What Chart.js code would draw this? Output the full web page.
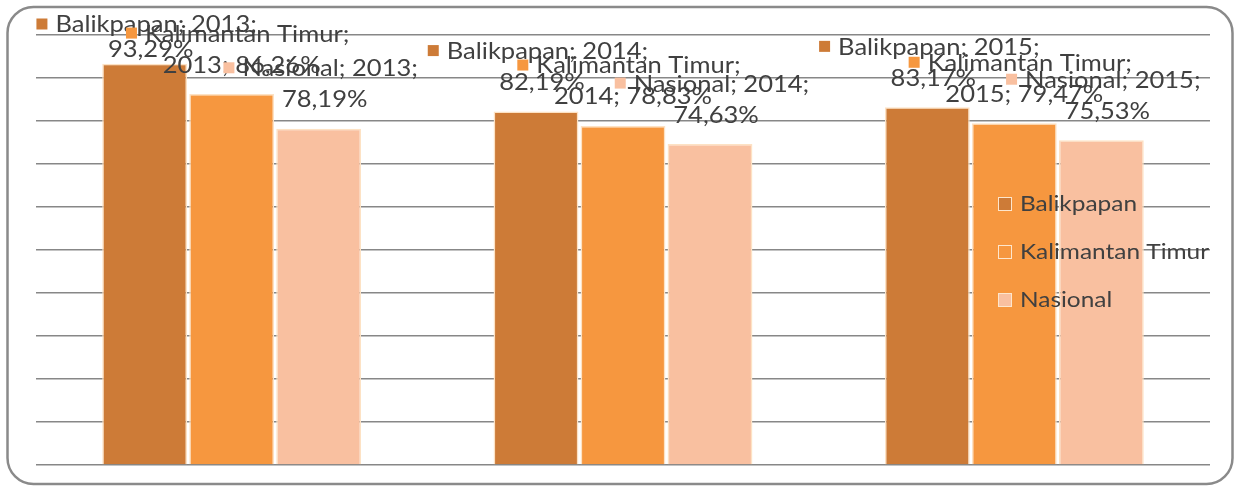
<!DOCTYPE html>
<html>
<head>
<meta charset="utf-8">
<script src="https://cdn.jsdelivr.net/npm/chart.js@4/dist/chart.umd.min.js"></script>
<style>
  html, body { margin: 0; padding: 0; background: #ffffff; }
  #wrap { position: relative; width: 1235px; height: 488px; }
</style>
</head>
<body>
<div id="wrap"><canvas id="c" width="1235" height="488"></canvas></div>
<script>
// Categories (years) and series values in percent
const years = ['2013', '2014', '2015'];
const seriesNames = ['Balikpapan', 'Kalimantan Timur', 'Nasional'];
const balikpapan = [93.29, 82.19, 83.17];
const kalimantanTimur = [86.26, 78.83, 79.47];
const nasional = [78.19, 74.63, 75.53];
const seriesColors = ['#cd7b37', '#f6973f', '#f9c0a0'];

const FONT = 'Lato, "Open Sans", sans-serif';
const TEXT = '#404040';
const STRETCH = 1.11; // slightly widened lettering

function fmt(v) { return v.toFixed(2).replace('.', ',') + '%'; }

// Draw text widened horizontally; align is 'left' or 'center'
function wideText(ctx, str, x, y, align) {
  const w = ctx.measureText(str).width * STRETCH;
  const left = align === 'center' ? x - w / 2 : x;
  ctx.save();
  ctx.translate(left, y);
  ctx.scale(STRETCH, 1);
  ctx.textAlign = 'left';
  ctx.fillText(str, 0, 0);
  ctx.restore();
}

// Rounded frame around the whole chart
const framePlugin = {
  id: 'frame',
  beforeDraw(chart) {
    const ctx = chart.ctx;
    ctx.save();
    ctx.fillStyle = '#ffffff';
    ctx.fillRect(0, 0, chart.width, chart.height);
    ctx.strokeStyle = '#8a8a8a';
    ctx.lineWidth = 2.5;
    ctx.beginPath();
    ctx.roundRect(7.5, 7, chart.width - 10, chart.height - 11, 26);
    ctx.stroke();
    ctx.restore();
  }
};

// Value labels: marker + "Series; Year;" on one line, value on the next
const labelPlugin = {
  id: 'barLabels',
  afterDatasetsDraw(chart) {
    const ctx = chart.ctx;
    ctx.save();
    ctx.font = '23px ' + FONT;
    ctx.textBaseline = 'middle';
    chart.data.datasets.forEach((ds, di) => {
      const meta = chart.getDatasetMeta(di);
      meta.data.forEach((bar, i) => {
        const v = ds.data[i];
        let l1, l2;
        if (di === 1) {
          l1 = ds.label + ';';
          l2 = years[i] + '; ' + fmt(v);
        } else {
          l1 = ds.label + '; ' + years[i] + ';';
          l2 = fmt(v);
        }
        let y2 = bar.y - 29;
        let y1 = y2 - 31;
        if (y1 < 25) { y1 = 25; y2 = y1 + 25; }
        const cx = bar.x + (di === 1 ? 6 : 2);
        const w1 = ctx.measureText(l1).width * STRETCH;
        const mk = 11, gap = 8;
        const total = mk + gap + w1;
        const x0 = cx - total / 2;
        ctx.fillStyle = ds.backgroundColor;
        ctx.fillRect(x0, y1 - mk / 2 - 1, mk, mk);
        ctx.fillStyle = TEXT;
        wideText(ctx, l1, x0 + mk + gap, y1, 'left');
        wideText(ctx, l2, cx + 4, y2, 'center');
      });
    });
    ctx.restore();
  }
};

// Legend drawn inside the plot area on the right
const legendPlugin = {
  id: 'innerLegend',
  afterDatasetsDraw(chart) {
    const ctx = chart.ctx;
    ctx.save();
    ctx.font = '22px ' + FONT;
    ctx.textBaseline = 'middle';
    const ys = [204, 252, 300];
    seriesNames.forEach((name, k) => {
      const x = 998, y = ys[k];
      ctx.fillStyle = seriesColors[k];
      ctx.fillRect(x, y - 7, 14, 14);
      ctx.strokeStyle = '#fde6cc';
      ctx.lineWidth = 1;
      ctx.strokeRect(x + 0.5, y - 6.5, 13, 13);
      ctx.fillStyle = TEXT;
      wideText(ctx, name, 1020, y, 'left');
    });
    ctx.restore();
  }
};

const datasets = [balikpapan, kalimantanTimur, nasional].map((vals, k) => ({
  label: seriesNames[k],
  data: vals,
  backgroundColor: seriesColors[k],
  borderColor: '#fde2c4',
  borderWidth: 1.5,
  categoryPercentage: 0.667,
  barPercentage: 0.975
}));

new Chart(document.getElementById('c'), {
  type: 'bar',
  data: { labels: years, datasets },
  options: {
    responsive: false,
    animation: false,
    devicePixelRatio: 1,
    layout: { padding: { left: 36, right: 25, top: 35, bottom: 23 } },
    plugins: {
      legend: { display: false },
      tooltip: { enabled: false },
      title: { display: false }
    },
    scales: {
      x: { display: false },
      y: {
        min: 0, max: 100,
        ticks: { display: false, stepSize: 10 },
        grid: { color: '#878787', lineWidth: 1.5, drawTicks: false },
        border: { display: false }
      }
    }
  },
  plugins: [framePlugin, labelPlugin, legendPlugin]
});
</script>
</body>
</html>
